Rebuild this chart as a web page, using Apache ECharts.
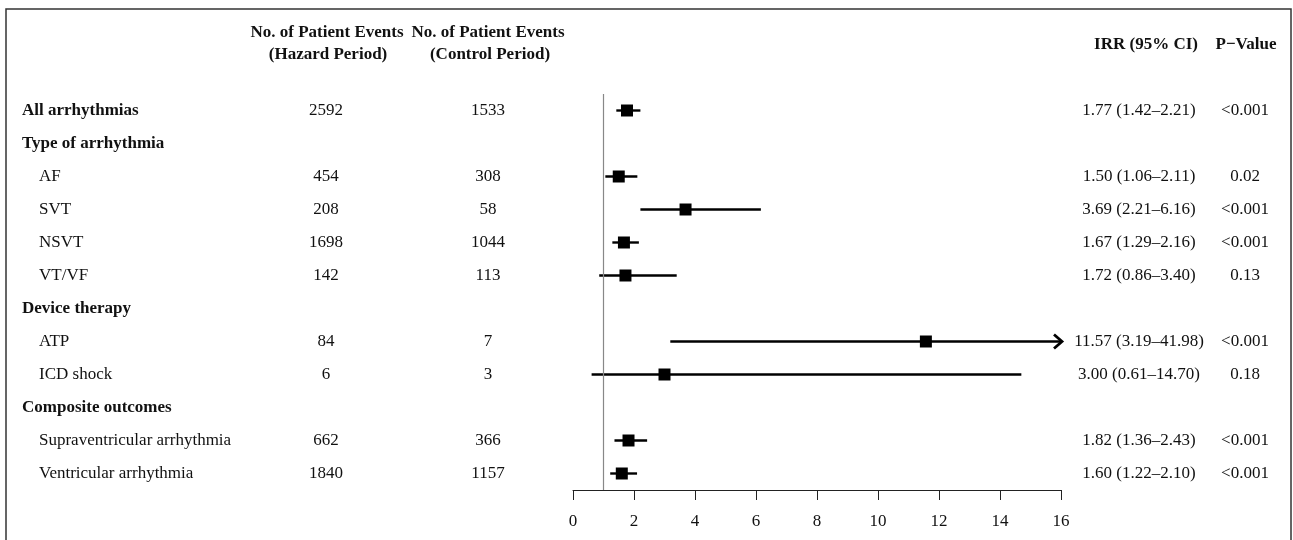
<!DOCTYPE html>
<html>
<head>
<meta charset="utf-8">
<style>
html,body{margin:0;padding:0;background:#fff;}
#chart{width:1293px;height:540px;}
</style>
<script src="https://cdn.jsdelivr.net/npm/echarts@6/dist/echarts.min.js"></script>
</head>
<body>
<div id="chart"></div>
<script>
// ---- data ----
const labels = ['All arrhythmias','Type of arrhythmia','AF','SVT','NSVT','VT/VF','Device therapy','ATP','ICD shock','Composite outcomes','Supraventricular arrhythmia','Ventricular arrhythmia'];
const indent = [0,0,1,1,1,1,0,1,1,0,1,1];
const hazardEvents = ['2592','','454','208','1698','142','','84','6','','662','1840'];
const controlEvents = ['1533','','308','58','1044','113','','7','3','','366','1157'];
const irr   = [1.77,null,1.50,3.69,1.67,1.72,null,11.57,3.00,null,1.82,1.60];
const lower = [1.42,null,1.06,2.21,1.29,0.86,null,3.19,0.61,null,1.36,1.22];
const upper = [2.21,null,2.11,6.16,2.16,3.40,null,41.98,14.70,null,2.43,2.10];
const pValues = ['<0.001','','0.02','<0.001','<0.001','0.13','','<0.001','0.18','','<0.001','<0.001'];
const xTicks = {min:0, max:16, interval:2};
const refValue = 1;

const FONT = '"Liberation Serif", "Times New Roman", serif';
const FS = 17;

const irrText = irr.map((v,i)=> v==null ? '' : v.toFixed(2)+' ('+lower[i].toFixed(2)+'\u2013'+upper[i].toFixed(2)+')');

const forestData = [];
irr.forEach((v,i)=>{ if(v!=null) forestData.push([v,i,lower[i],upper[i]]); });

const chart = echarts.init(document.getElementById('chart'));

function colAxis(pos, margin, texts){
  return {
    type:'category', data:labels, inverse:true, position:pos, gridIndex:0,
    axisLine:{show:false}, axisTick:{show:false}, splitLine:{show:false},
    axisLabel:{interval:0, margin:margin, align:'center', color:'#111', fontFamily:FONT, fontSize:FS,
      formatter:(v,i)=>texts[i]}
  };
}

const option = {
  animation:false,
  backgroundColor:'#fff',
  grid:{left:573, right:232, top:94, bottom:50, outerBoundsMode:'none', containLabel:false},
  xAxis:{
    type:'value', min:xTicks.min, max:xTicks.max, interval:xTicks.interval,
    axisLine:{show:true, lineStyle:{color:'#222', width:1}},
    axisTick:{show:true, length:10, lineStyle:{color:'#222', width:1}},
    splitLine:{show:false},
    axisLabel:{margin:23, color:'#111', fontFamily:FONT, fontSize:FS}
  },
  yAxis:[
    {
      type:'category', data:labels, inverse:true, position:'left',
      axisLine:{show:false}, axisTick:{show:false}, splitLine:{show:false},
      axisLabel:{interval:0, margin:551, align:'left', fontFamily:FONT, fontSize:FS, color:'#111',
        formatter:(v,i)=> indent[i] ? '{n|'+v+'}' : '{b|'+v+'}',
        rich:{
          b:{fontWeight:'bold', fontFamily:FONT, fontSize:FS, color:'#111'},
          n:{fontFamily:FONT, fontSize:FS, color:'#111', padding:[0,0,0,17]}
        }}
    },
    colAxis('left', 247, hazardEvents),
    colAxis('left', 85, controlEvents),
    colAxis('right', 78, irrText),
    colAxis('right', 184, pValues)
  ],
  graphic:[
    {type:'rect', shape:{x:6, y:9, width:1285, height:540}, style:{fill:'none', stroke:'#333', lineWidth:1.5}, silent:true},
    {type:'text', x:327, y:33, style:{text:'No. of Patient Events', font:'bold '+FS+'px '+FONT, fill:'#111', align:'center', verticalAlign:'middle'}},
    {type:'text', x:328, y:55, style:{text:'(Hazard Period)', font:'bold '+FS+'px '+FONT, fill:'#111', align:'center', verticalAlign:'middle'}},
    {type:'text', x:488, y:33, style:{text:'No. of Patient Events', font:'bold '+FS+'px '+FONT, fill:'#111', align:'center', verticalAlign:'middle'}},
    {type:'text', x:490, y:55, style:{text:'(Control Period)', font:'bold '+FS+'px '+FONT, fill:'#111', align:'center', verticalAlign:'middle'}},
    {type:'text', x:1146, y:45, style:{text:'IRR (95% CI)', font:'bold '+FS+'px '+FONT, fill:'#111', align:'center', verticalAlign:'middle'}},
    {type:'text', x:1246, y:45, style:{text:'P\u2212Value', font:'bold '+FS+'px '+FONT, fill:'#111', align:'center', verticalAlign:'middle'}}
  ],
  series:[{
    type:'custom', xAxisIndex:0, yAxisIndex:0, clip:false,
    data:forestData,
    encode:{x:[0,2,3], y:1},
    renderItem:function(params, api){
      const row = api.value(1);
      const est = api.coord([api.value(0), row]);
      const lo = api.coord([Math.max(api.value(2), xTicks.min), row]);
      const over = api.value(3) > xTicks.max;
      const hi = api.coord([Math.min(api.value(3), xTicks.max), row]);
      const s = 12;
      const children = [
        {type:'line', shape:{x1:lo[0], y1:lo[1], x2:hi[0]+(over?1:0), y2:hi[1]}, style:{stroke:'#000', lineWidth:2.4}},
        {type:'rect', shape:{x:est[0]-s/2, y:est[1]-s/2, width:s, height:s}, style:{fill:'#000'}}
      ];
      if(over){
        children.push({type:'polyline', shape:{points:[[hi[0]-7,hi[1]-7],[hi[0]+1,hi[1]],[hi[0]-7,hi[1]+7]]}, style:{stroke:'#000', lineWidth:2.8, fill:'none'}});
      }
      return {type:'group', children:children};
    },
    markLine:{
      silent:true, symbol:['none','none'], label:{show:false},
      lineStyle:{color:'#888', width:1.2, type:'solid'},
      data:[{xAxis:refValue}]
    },
    z:3
  }]
};
chart.setOption(option);
</script>
</body>
</html>
